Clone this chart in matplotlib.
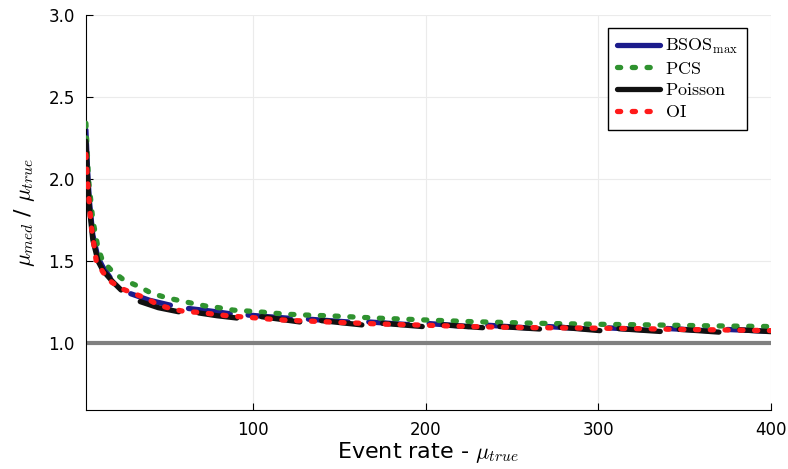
import numpy as np
import matplotlib
matplotlib.use('Agg')
import matplotlib.pyplot as plt

plt.rcParams['mathtext.fontset'] = 'cm'

nan = np.nan

# PCS (smooth)
pcs_x = [3, 4.5, 7, 10, 12.7, 18, 25, 34, 41, 50, 64.5, 72, 80, 88.6, 96, 104,
         112.7, 120, 128, 145, 175, 200, 226, 264, 297, 330, 360, 400]
pcs_y = [2.34, 2.0, 1.75, 1.58, 1.5, 1.44, 1.384, 1.343, 1.303, 1.275, 1.242, 1.226,
         1.215, 1.20, 1.195, 1.189, 1.181, 1.175, 1.171, 1.165, 1.15, 1.14, 1.13,
         1.12, 1.114, 1.11, 1.105, 1.10]

# OI
oi_x = [3, 4, 6, 9, 13, 18, 24, 31, 38, 45, 53, 61, 68, 76, 84, 92, 100, 109, 117,
        124, 131, 150, 175, 200, 225, 250, 275, 300, 325, 350, 375, 400]
oi_y = [2.15, 1.98, 1.72, 1.5, 1.43, 1.37, 1.33, 1.30, 1.272, 1.232, 1.207, 1.19,
        1.187, 1.177, 1.167, 1.16, 1.154, 1.146, 1.14, 1.136, 1.134, 1.125, 1.115,
        1.108, 1.10, 1.095, 1.092, 1.09, 1.087, 1.082, 1.079, 1.075]

# BSOS_max (broken segments, nan = gap)
bsos_x = [3, 4, 5, 7, 10, 13, 17, nan,
          29, 40, 52, nan,
          62.5, 75, 86.7, nan,
          97, 109, 121.5, nan,
          132, 155, nan,
          167, 190, nan,
          202, 225, nan,
          236, 259, nan,
          271, 294, nan,
          306, 329, nan,
          340, 363, nan,
          375, 398]
bsos_y = [2.30, 2.05, 1.87, 1.66, 1.52, 1.46, 1.40, nan,
          1.30, 1.26, 1.23, nan,
          1.21, 1.195, 1.178, nan,
          1.17, 1.16, 1.15, nan,
          1.145, 1.128, nan,
          1.128, 1.112, nan,
          1.118, 1.10, nan,
          1.108, 1.092, nan,
          1.10, 1.085, nan,
          1.092, 1.078, nan,
          1.088, 1.075, nan,
          1.082, 1.072]

# Poisson (broken segments)
pois_x = [3, 4, 5, 7, 10, 13, 18.5, 23.4, nan,
          34.5, 45, 56.8, nan,
          68.4, 79, 90.5, nan,
          104.9, 127, nan,
          139.6, 163, nan,
          175, 198, nan,
          210, 233, nan,
          243, 266, nan,
          278, 301, nan,
          312, 336, nan,
          347, 370, nan,
          382, 400]
pois_y = [2.23, 2.0, 1.83, 1.63, 1.50, 1.44, 1.374, 1.323, nan,
          1.252, 1.215, 1.19, nan,
          1.183, 1.166, 1.152, nan,
          1.16, 1.128, nan,
          1.136, 1.11, nan,
          1.12, 1.10, nan,
          1.11, 1.093, nan,
          1.10, 1.085, nan,
          1.096, 1.075, nan,
          1.087, 1.07, nan,
          1.083, 1.066, nan,
          1.08, 1.069]

ref_x = [3, 400]
ref_y = [1.0, 1.0]

fig = plt.figure(figsize=(7.88, 4.69), dpi=100)
ax = fig.add_axes([0.109, 0.1258, 0.869, 0.8422])

dots = (0, (0.6, 2.2))
lw = 3.8
ax.plot(ref_x, ref_y, color='#808080', lw=3.0, solid_capstyle='butt', zorder=1)
ax.plot(bsos_x, bsos_y, color='#1c1c8c', lw=lw, solid_capstyle='round',
        label=r'$\mathrm{BSOS}_{\mathrm{max}}$', zorder=2)
ax.plot(pcs_x, pcs_y, color='#2f922f', lw=lw, ls=dots, dash_capstyle='round',
        label=r'$\mathrm{PCS}$', zorder=3)
ax.plot(pois_x, pois_y, color='#111111', lw=lw, solid_capstyle='round',
        label=r'$\mathrm{Poisson}$', zorder=4)
ax.plot(oi_x, oi_y, color='#ff1a1a', lw=lw, ls=dots, dash_capstyle='round',
        label=r'$\mathrm{OI}$', zorder=5)

ax.set_xlim(3, 400)
ax.set_ylim(0.591, 3.0)
ax.set_xticks([100, 200, 300, 400])
ax.set_yticks([1.0, 1.5, 2.0, 2.5, 3.0])
ax.set_yticklabels(['1.0', '1.5', '2.0', '2.5', '3.0'])
ax.grid(True, color='#ebebeb', lw=0.8)
ax.set_axisbelow(True)
ax.spines['top'].set_visible(False)
ax.spines['right'].set_visible(False)
ax.tick_params(direction='in', length=5, labelsize=12, pad=8)

ax.set_xlabel(r'Event rate - $\mu_{true}$', fontsize=16, labelpad=1)
ax.set_ylabel(r'$\mu_{med}$ / $\mu_{true}$', fontsize=16, labelpad=8)

leg = ax.legend(loc='upper right', bbox_to_anchor=(0.966, 0.967), fontsize=13,
                fancybox=False, edgecolor='black', framealpha=1,
                handlelength=2.4, borderpad=0.5, labelspacing=0.2,
                handletextpad=0.3, borderaxespad=0)
leg.get_frame().set_linewidth(1.0)

fig.savefig('out.png', dpi=100)
